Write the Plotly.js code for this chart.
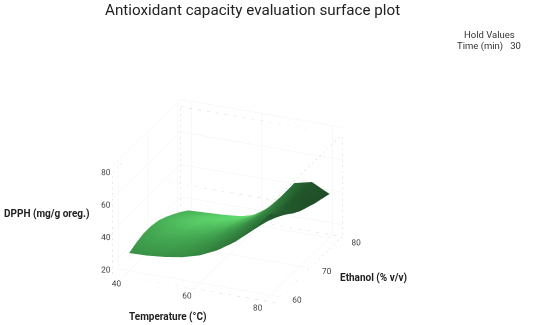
<!DOCTYPE html>
<html><head><meta charset="utf-8"><script src="https://cdn.plot.ly/plotly-3.0.1.min.js"></script>
<style>html,body{margin:0;padding:0;background:#fff}</style></head><body><div id="c" style="width:550px;height:325px"></div>
<script>
const temperature=[40,45,50,55,60,65,70,75,80];
const ethanol=[60,62.5,65,67.5,70,72.5,75,77.5,80];
const dpph=[
[23.6,23.9,24.9,26.6,29.6,34.6,41.6,50.6,62.6],
[25.8,26.3,27.3,28.9,31.6,36.1,42.3,49.1,57.6],
[27.1,27.6,28.6,30.1,32.6,37.1,42.6,47.6,53.6],
[27.1,27.6,28.6,30.1,32.3,36.6,42.3,46.6,49.6],
[26.1,26.6,27.6,29.1,31.1,35.1,41.6,45.6,46.6],
[23.9,24.4,25.4,26.6,29.1,33.6,41.6,45.6,44.6],
[21.1,21.6,22.6,23.6,26.1,31.6,41.6,45.6,42.6],
[18.1,18.6,19.4,20.6,23.1,30.1,42.1,45.6,41.1],
[14.6,15.1,15.6,16.6,19.6,28.6,42.6,45.1,39.6]];
const shade=[
[.5,.52,.5,.47,.42,.36,.3,.22,.12],
[.58,.6,.6,.56,.5,.42,.34,.22,.12],
[.62,.68,.68,.65,.6,.5,.38,.2,.1],
[.66,.74,.78,.76,.7,.58,.4,.18,.08],
[.7,.8,.86,.84,.8,.66,.42,.15,.07],
[.72,.82,.9,.92,.88,.72,.4,.12,.06],
[.72,.82,.92,.96,.95,.78,.35,.1,.05],
[.72,.8,.9,.96,.98,.8,.3,.1,.05],
[.7,.78,.86,.95,.98,.8,.25,.1,.05]];
const xr=[37,82.8],yr=[58,81],zr=[12.6,80],zBox=[12.6,75.6];
const boxX=[xr[0],xr[1],xr[1],xr[0],xr[0],null,xr[0],xr[1],xr[1],xr[0],xr[0],null,xr[0],xr[0],null,xr[1],xr[1],null,xr[0],xr[0]];
const boxY=[yr[0],yr[0],yr[1],yr[1],yr[0],null,yr[0],yr[0],yr[1],yr[1],yr[0],null,yr[1],yr[1],null,yr[1],yr[1],null,yr[0],yr[0]];
const boxZ=[zBox[0],zBox[0],zBox[0],zBox[0],zBox[0],null,zBox[1],zBox[1],zBox[1],zBox[1],zBox[1],null,zBox[0],zBox[1],null,zBox[0],zBox[1],null,zBox[0],zBox[1]];
const ax=(vals,r)=>({range:r,tickvals:vals,ticktext:vals.map(String),tickangle:0,title:{text:''},showbackground:false,showline:false,zeroline:false,showgrid:true,gridcolor:'#f2f2f2',gridwidth:1,ticks:'',tickfont:{family:'Roboto',size:10,color:'#444'},showspikes:false,autorange:false});
Plotly.newPlot('c',[
{type:'surface',x:temperature,y:ethanol,z:dpph,surfacecolor:shade,cmin:0,cmax:1,colorscale:[[0,'#1c4724'],[.35,'#2f7a3b'],[.6,'#3f9f4d'],[1,'#62dd70']],showscale:false,lighting:{ambient:1,diffuse:0,specular:0,roughness:1,fresnel:0},hoverinfo:'skip'},
{type:'scatter3d',mode:'lines',x:boxX,y:boxY,z:boxZ,line:{color:'#d0d0d0',width:1,dash:'dot'},hoverinfo:'skip',showlegend:false}
],{
width:550,height:325,margin:{l:0,r:0,t:0,b:0},paper_bgcolor:'#fff',showlegend:false,
scene:{domain:{x:[0,.828],y:[.011,.755]},aspectmode:'manual',aspectratio:{x:1.45,y:1.45,z:.99},
camera:{projection:{type:'orthographic'},eye:{x:.354*2.2,y:-.842*2.2,z:.407*2.2},center:{x:0,y:0,z:0},up:{x:0,y:0,z:1}},
xaxis:ax([40,60,80],xr),yaxis:ax([60,70,80],yr),zaxis:ax([20,40,60,80],zr)},
annotations:[
{text:'Antioxidant capacity evaluation surface plot',x:252,y:10,font:{family:'Roboto',size:15.2,color:'#222'}},
{text:'Hold Values',x:489,y:34.5,font:{family:'Roboto',size:9.5,color:'#333'}},
{text:'Time (min)   30',x:489,y:46,font:{family:'Roboto',size:9.5,color:'#333'}},
{text:'<b>DPPH (mg/g oreg.)</b>',x:46,y:214,font:{family:'Roboto',size:10,color:'#222'}},
{text:'<b>Temperature (°C)</b>',x:167,y:317,font:{family:'Roboto',size:10,color:'#222'}},
{text:'<b>Ethanol (% v/v)</b>',x:373,y:278,font:{family:'Roboto',size:10,color:'#222'}}
].map(a=>({showarrow:false,xref:'paper',yref:'paper',x:a.x/550,y:1-a.y/325,xanchor:'center',yanchor:'middle',text:a.text,font:a.font}))
},{displayModeBar:false});
</script></body></html>
